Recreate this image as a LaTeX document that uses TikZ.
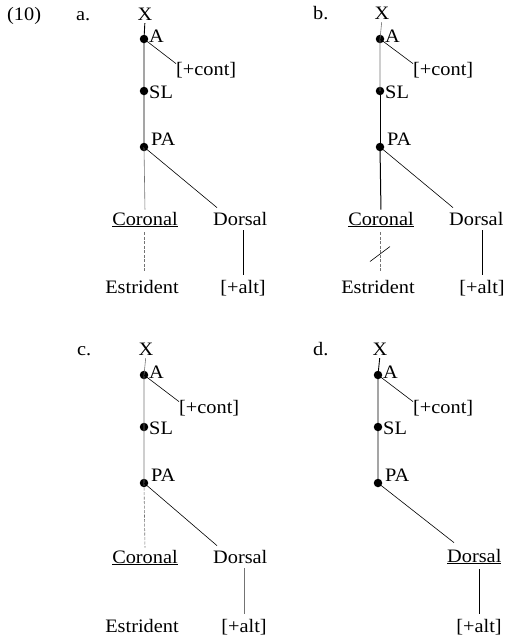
\documentclass[tikz,border=0pt]{standalone}
\usepackage{fontspec}
\setmainfont{Liberation Serif}[FakeStretch=1.07]
\usetikzlibrary{calc}
\begin{document}
\begin{tikzpicture}[x=1pt,y=-1pt,
  every node/.style={font=\fontsize{19}{22}\selectfont, inner sep=0pt},
  dot/.style={circle,fill=black,minimum size=8.5pt,inner sep=0pt},
  lbl/.style={anchor=base west},
  main/.style={line width=0.9pt},
  thinl/.style={line width=0.6pt},
  faint/.style={line width=0.6pt, black!55},
  dsh/.style={line width=0.6pt, black!55, dash pattern=on 3pt off 1.5pt},
]
\useasboundingbox (0,0) rectangle (504,638);

% ---------- panel a ----------
\node[lbl] (num) at (7,20) {(10)};
\node[lbl] (la) at (76,20) {a.};
\node[anchor=base] (aX) at (145,20) {X};
\node[dot] (aA) at (144,39) {};
\node[dot] (aSL) at (144,91) {};
\node[dot] (aPA) at (144,147) {};
\node[lbl] (aAl) at (149,42) {A};
\node[lbl] (aSLl) at (149,98) {SL};
\node[lbl] (aPAl) at (151,145) {PA};
\node[lbl] (acont) at (176,75) {[+cont]};
\node[anchor=base] (acor) at (145,225) {\underline{Coronal}};
\node[lbl] (ador) at (213,225) {Dorsal};
\node[anchor=base] (aest) at (142,293) {Estrident};
\node[anchor=base] (aalt) at (243,293) {[+alt]};
\draw[main, shorten <=3pt] (aX.south) -- (aA.center) -- (aSL.center) -- (aPA.center);
\draw[thinl] (aA.center) -- ($(acont.north west)+(0,2)$);
\draw[faint, shorten >=2pt] (aPA.center) -- (acor.north);
\draw[thinl] (aPA.center) -- ($(ador.north west)+(4,-4)$);
\draw[dsh, shorten <=5pt, shorten >=7pt] (acor.south -| aPA) -- (aest.north -| aPA);
\draw[thinl, shorten <=5pt, shorten >=5pt] (ador.south -| aalt.north) -- (aalt.north);

% ---------- panel b ----------
\begin{scope}[shift={(236,0)}]
\node[lbl] (lb) at (77,19) {b.};
\node[anchor=base] (bX) at (146,19) {X};
\node[dot] (bA) at (144,39) {};
\node[dot] (bSL) at (144,91) {};
\node[dot] (bPA) at (144,147) {};
\node[lbl] (bAl) at (149,42) {A};
\node[lbl] (bSLl) at (149,98) {SL};
\node[lbl] (bPAl) at (151,145) {PA};
\node[lbl] (bcont) at (177,75) {[+cont]};
\node[anchor=base] (bcor) at (145,225) {\underline{Coronal}};
\node[lbl] (bdor) at (213,225) {Dorsal};
\node[anchor=base] (best) at (142,293) {Estrident};
\node[anchor=base] (balt) at (246,293) {[+alt]};
\draw[faint, shorten <=3pt] (bX.south) -- (bA.center) -- (bSL.center);
\draw[main] (bSL.center) -- (bPA.center);
\draw[thinl] (bA.center) -- ($(bcont.north west)+(0,2)$);
\draw[line width=1pt, shorten >=2pt] (bPA.center) -- (bcor.north);
\draw[thinl] (bPA.center) -- ($(bdor.north west)+(4,-4)$);
\draw[dsh, shorten <=5pt, shorten >=7pt] (bcor.south -| bPA) -- coordinate[pos=0.5] (bm) (best.north -| bPA);
\draw[thinl] ($(bm)+(-10,8)$) -- ($(bm)+(10,-7)$);
\draw[thinl, shorten <=5pt, shorten >=5pt] (bdor.south -| balt.north) -- (balt.north);
\end{scope}

% ---------- panel c ----------
\begin{scope}[shift={(0,336)}]
\node[lbl] (lc) at (77,19) {c.};
\node[anchor=base] (cX) at (146,19) {X};
\node[dot] (cA) at (144,39) {};
\node[dot] (cSL) at (144,91) {};
\node[dot] (cPA) at (144,147) {};
\node[lbl] (cAl) at (149,42) {A};
\node[lbl] (cSLl) at (149,98) {SL};
\node[lbl] (cPAl) at (151,145) {PA};
\node[lbl] (ccont) at (179,77) {[+cont]};
\node[anchor=base] (ccor) at (145,227) {\underline{Coronal}};
\node[lbl] (cdor) at (213,227) {Dorsal};
\node[anchor=base] (cest) at (142,296) {Estrident};
\node[anchor=base] (calt) at (244,296) {[+alt]};
\draw[faint, shorten <=3pt] (cX.south) -- (cA.center) -- (cSL.center) -- (cPA.center);
\draw[thinl] (cA.center) -- ($(ccont.north west)+(0,2)$);
\draw[dsh, shorten >=2pt] (cPA.center) -- (ccor.north);
\draw[thinl] (cPA.center) -- ($(cdor.north west)+(4,-4)$);
\draw[faint, shorten <=5pt, shorten >=5pt] (cdor.south -| calt.north) -- (calt.north);
\end{scope}

% ---------- panel d ----------
\begin{scope}[shift={(235,336)}]
\node[lbl] (ld) at (78,19) {d.};
\node[anchor=base] (dX) at (145,19) {X};
\node[dot] (dA) at (143,39) {};
\node[dot] (dSL) at (143,91) {};
\node[dot] (dPA) at (143,147) {};
\node[lbl] (dAl) at (148,42) {A};
\node[lbl] (dSLl) at (148,98) {SL};
\node[lbl] (dPAl) at (150,145) {PA};
\node[lbl] (dcont) at (178,77) {[+cont]};
\node[lbl] (ddor) at (212,226) {\underline{Dorsal}};
\node[anchor=base] (dalt) at (244,296) {[+alt]};
\draw[main, shorten <=3pt] (dX.south) -- (dA.center) -- (dSL.center) -- (dPA.center);
\draw[thinl] (dA.center) -- ($(dcont.north west)+(0,2)$);
\draw[thinl] (dPA.center) -- ($(ddor.north west)+(7,-6)$);
\draw[thinl, shorten <=5pt, shorten >=5pt] (ddor.south -| dalt.north) -- (dalt.north);
\end{scope}
\end{tikzpicture}
\end{document}
